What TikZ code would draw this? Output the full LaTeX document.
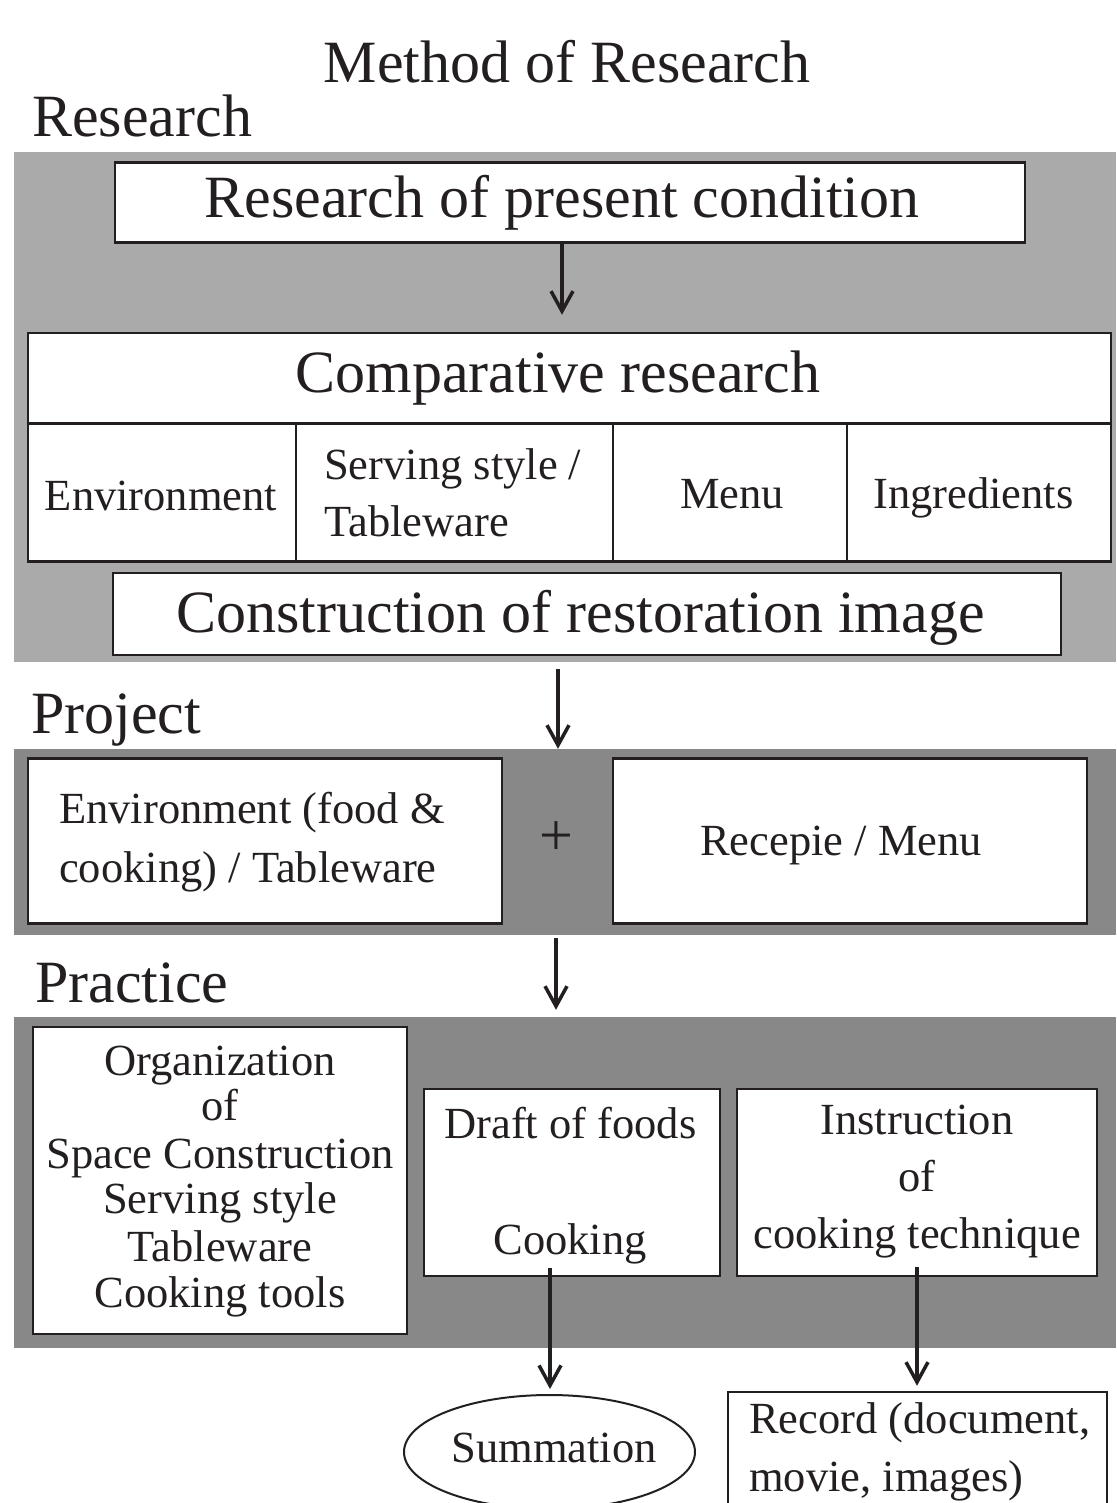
\documentclass[tikz,border=0pt]{standalone}
\usepackage{fontspec}
\setmainfont{Liberation Serif}
\usetikzlibrary{arrows.meta,shapes.geometric}
\definecolor{ink}{HTML}{231F20}
\definecolor{lightpanel}{HTML}{A9AAA9}
\definecolor{darkpanel}{HTML}{888888}
\tikzset{
  panel/.style={fill=#1, draw=none, inner sep=0pt},
  box/.style={draw=ink, line width=2.5pt, fill=white, inner sep=0pt},
  big/.style={font=\fontsize{60}{66}\selectfont, text=ink, inner sep=0pt},
  small/.style={font=\fontsize{44.5}{50}\selectfont, text=ink, inner sep=0pt},
  flow/.style={draw=ink, line width=3.5pt, -{Straight Barb[length=20pt,width=22pt]}}
}
\begin{document}
\begin{tikzpicture}[x=1pt,y=-1pt]
\clip (0,0) rectangle (1116,1503);
\fill[white] (0,0) rectangle (1116,1503);
% panels
\node[panel=lightpanel, minimum width=1102pt, minimum height=510pt] (p1) at (565,407) {};
\node[panel=darkpanel, minimum width=1102pt, minimum height=186pt] (p2) at (565,842) {};
\node[panel=darkpanel, minimum width=1102pt, minimum height=331pt] (p3) at (565,1182.5) {};
% headings
\node[big, anchor=base] (title) at (567,83) {Method of Research};
\node[big, anchor=base west] (lres) at (32,137) {Research};
\node[big, anchor=base west] (lproj) at (31,733) {Project};
\node[big, anchor=base west] (lprac) at (35,1002) {Practice};
% research panel
\node[box, minimum width=910pt, minimum height=80pt] (rpc) at (570,202.5) {};
\node[big, anchor=base] (rpct) at (562,218) {Research of present condition};
\node[box, minimum width=1083pt, minimum height=90pt] (cmp) at (569.5,378) {};
\node[big, anchor=base] (cmpt) at (558,392) {Comparative research};
\node[box, minimum width=268pt, minimum height=138pt] (c1) at (162,492.5) {};
\node[box, minimum width=317pt, minimum height=138pt] (c2) at (454.5,492.5) {};
\node[box, minimum width=234pt, minimum height=138pt] (c3) at (730,492.5) {};
\node[box, minimum width=264pt, minimum height=138pt] (c4) at (979,492.5) {};
\node[small, anchor=base] (c1t) at (161,510) {Environment};
\node[small, anchor=base west] (c2a) at (324,479) {Serving style /};
\node[small, anchor=base west] (c2b) at (324,536) {Tableware};
\node[small, anchor=base] (c3t) at (732,508) {Menu};
\node[small, anchor=base] (c4t) at (973.5,508) {Ingredients};
\node[box, minimum width=948pt, minimum height=82pt] (cons) at (587,614) {};
\node[big, anchor=base] (const) at (580.5,632) {Construction of restoration image};
% project panel
\node[box, minimum width=474pt, minimum height=165pt] (penv) at (265,841) {};
\node[small, anchor=base west] (penva) at (59,823) {Environment (food \&};
\node[small, anchor=base west] (penvb) at (59,882) {cooking) / Tableware};
\node[text=ink, inner sep=0pt, font=\fontsize{60}{64}\selectfont] (plus) at (556,839) {+};
\node[box, minimum width=474pt, minimum height=165pt] (pmenu) at (850,841) {};
\node[small, anchor=base] (pmenut) at (841,855) {Recepie / Menu};
% practice panel
\node[box, minimum width=374pt, minimum height=307pt] (org) at (220,1180.5) {};
\node[small, anchor=base] (org1) at (220,1075) {Organization};
\node[small, anchor=base] (org2) at (220,1120) {of};
\node[small, anchor=base] (org3) at (220,1168) {Space Construction};
\node[small, anchor=base] (org4) at (220,1213) {Serving style};
\node[small, anchor=base] (org5) at (220,1261) {Tableware};
\node[small, anchor=base] (org6) at (220,1307) {Cooking tools};
\node[box, minimum width=296pt, minimum height=187pt] (draft) at (572,1182.5) {};
\node[small, anchor=base] (draft1) at (570.5,1138) {Draft of foods};
\node[small, anchor=base] (draft2) at (570,1254) {Cooking};
\node[box, minimum width=360pt, minimum height=187pt] (instr) at (917,1182.5) {};
\node[small, anchor=base] (instr1) at (917,1134) {Instruction};
\node[small, anchor=base] (instr2) at (917,1191) {of};
\node[small, anchor=base] (instr3) at (917,1248) {cooking technique};
% outputs
\node[ellipse, draw=ink, line width=2pt, fill=white, minimum width=291pt, minimum height=114pt, inner sep=0pt] (summ) at (549.5,1452) {};
\node[small, anchor=base] (summt) at (554,1462) {Summation};
\node[box, minimum width=379pt, minimum height=140pt] (rec) at (917.5,1462) {};
\node[small, anchor=base west] (rec1) at (749,1433) {Record (document,};
\node[small, anchor=base west] (rec2) at (749,1491) {movie, images)};
% connectors
\coordinate (a1) at ([xshift=-8pt]rpc.south);
\draw[flow, shorten >=17pt] (a1) -- (a1 |- cmp.north);
\coordinate (a2) at ([xshift=-29pt]cons.south);
\draw[flow, shorten <=13pt] (a2) -- (a2 |- p2.north);
\coordinate (a3) at ([xshift=-9pt]p2.south);
\draw[flow, shorten <=3pt, shorten >=7pt] (a3) -- (a3 |- p3.north);
\coordinate (a4) at ([shift={(-22,-9)}]draft.south);
\draw[flow, shorten >=5pt] (a4) -- (a4 |- summ.north);
\coordinate (a5) at ([yshift=10pt]instr.south);
\draw[flow, shorten >=5pt] (a5) -- (a5 |- rec.north);
\end{tikzpicture}
\end{document}
